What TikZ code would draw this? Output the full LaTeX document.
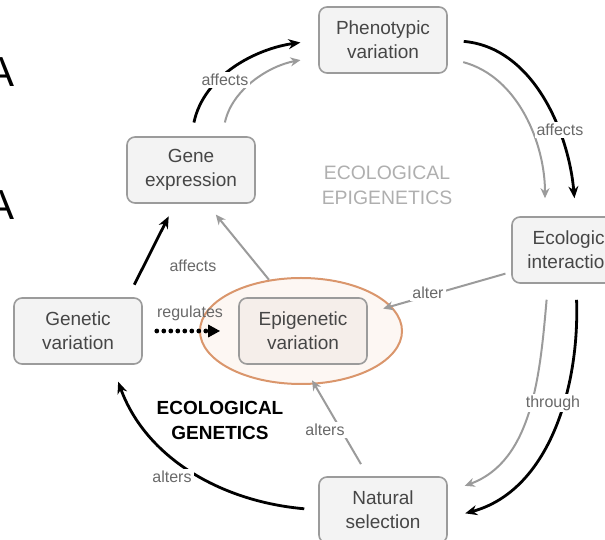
\documentclass[tikz,border=0pt]{standalone}
\usepackage{fontspec}
\setmainfont{Liberation Sans}
\usetikzlibrary{
	arrows.meta,
	shapes.geometric,
	positioning
}
\definecolor{BoxFill}{RGB}{243, 243, 243}
\definecolor{BoxLine}{RGB}{155, 155, 155}
\definecolor{EpiFill}{RGB}{245, 238, 234}
\definecolor{HaloFill}{RGB}{253, 247, 243}
\definecolor{HaloLine}{RGB}{218, 150, 108}
\definecolor{ArrowGray}{RGB}{155, 155, 155}
\definecolor{TextGray}{RGB}{70, 70, 70}
\definecolor{LabelGray}{RGB}{105, 105, 105}
\definecolor{TitleGray}{RGB}{175, 175, 175}

\tikzset{
	stage/.style={draw=BoxLine, fill=BoxFill, rounded corners=4pt, line width=0.8pt,
		minimum width=64pt, minimum height=33pt, align=center, text=TextGray,
		font=\fontsize{9.5}{12}\selectfont},
	blackarrow/.style={-{Stealth[length=6pt, width=5pt]}, line width=1.4pt, black},
	grayarrow/.style={-{Stealth[length=5pt, width=4.5pt]}, line width=1pt, ArrowGray},
	verb/.style={fill=white, inner sep=1pt, text=LabelGray, font=\fontsize{8}{9}\selectfont}
}

\begin{document}
\begin{tikzpicture}[x=25pt, y=25pt]
		\useasboundingbox (0,0) rectangle (12.1,10.8);
		% letters of the slide beside the picture
		\node[font=\fontsize{21}{21}\selectfont] (markA) at (0.02,9.36) {A};
		\node[font=\fontsize{21}{21}\selectfont] (markB) at (0.02,6.7) {A};
		% halo round the epigenetic box
		\node[ellipse, draw=HaloLine, fill=HaloFill, line width=1pt,
			minimum width=101pt, minimum height=53pt] (halo) at (6.02,4.18) {};
		% boxes
		\node[stage] (phen) at (7.66,10.0) {Phenotypic\\variation};
		\node[stage] (gexp) at (3.82,7.4) {Gene\\expression};
		\node[stage] (gen) at (1.56,4.18) {Genetic\\variation};
		\node[stage, fill=EpiFill] (epi) at (6.06,4.18) {Epigenetic\\variation};
		\node[stage] (eco) at (11.52,5.8) {Ecological\\interactions};
		\node[stage] (nat) at (7.66,0.6) {Natural\\selection};
		% outer cycle
		\draw[blackarrow, shorten <=7pt, shorten >=9pt] (gexp.north) to[out=78, in=188] (phen.west);
		\draw[grayarrow, shorten <=7pt, shorten >=9pt] ([xshift=15.5pt]gexp.north) to[out=78, in=190] ([yshift=-8.5pt]phen.west);
		\draw[blackarrow, shorten <=8pt, shorten >=9pt] (phen.east) to[out=-5, in=95] (eco.north);
		\draw[grayarrow, shorten <=8pt, shorten >=9pt] ([yshift=-9pt]phen.east) to[out=-15, in=90] ([xshift=-15.5pt]eco.north);
		\draw[blackarrow, shorten <=8pt, shorten >=9pt] (eco.south) to[out=-88, in=15] ([yshift=-4pt]nat.east);
		\draw[grayarrow, shorten <=8pt, shorten >=9pt] ([xshift=-14pt]eco.south) to[out=-95, in=20] ([yshift=9pt]nat.east);
		\draw[blackarrow, shorten <=7pt, shorten >=9pt] (nat.west) to[out=175, in=-70] ([xshift=17pt]gen.south);
		\draw[blackarrow, shorten <=7pt, shorten >=7pt] ([xshift=25pt]gen.north) -- ([xshift=-8pt]gexp.south);
		% inner links
		\draw[grayarrow, shorten >=7pt] (halo.122) -- ([xshift=8pt]gexp.south);
		\draw[dash pattern=on 0pt off 3.5pt, line cap=round, line width=2.4pt,
			-{Triangle[length=6pt, width=6pt]}, shorten <=7pt, shorten >=9pt] (gen.east) -- (epi.west);
		\draw[grayarrow, shorten <=3pt, shorten >=8pt] ([yshift=-11pt]eco.west) -- ([yshift=9pt]epi.east);
		\draw[grayarrow, shorten <=7pt, shorten >=9pt] ([xshift=-7.5pt]nat.north) -- (epi.south);
		% labels
		\node[verb] (affectsA) at (4.5,9.2) {affects};
		\node[verb] (affectsB) at (11.2,8.2) {affects};
		\node[verb] (through) at (11.06,2.74) {through};
		\node[verb] (altersA) at (3.44,1.26) {alters};
		\node[verb] (affectsC) at (3.86,5.48) {affects};
		\node[verb, fill=none] (regulates) at (3.8,4.54) {regulates};
		\node[verb] (alter) at (8.56,4.94) {alter};
		\node[verb] (altersB) at (6.5,2.2) {alters};
		\node[text=TitleGray, align=center, font=\fontsize{9.7}{12.5}\selectfont] (epititle) at (7.74,7.1) {ECOLOGICAL\\EPIGENETICS};
		\node[align=center, font=\bfseries\fontsize{9.5}{12.5}\selectfont] (gentitle) at (4.4,2.4) {ECOLOGICAL\\GENETICS};
	\end{tikzpicture}
\end{document}
